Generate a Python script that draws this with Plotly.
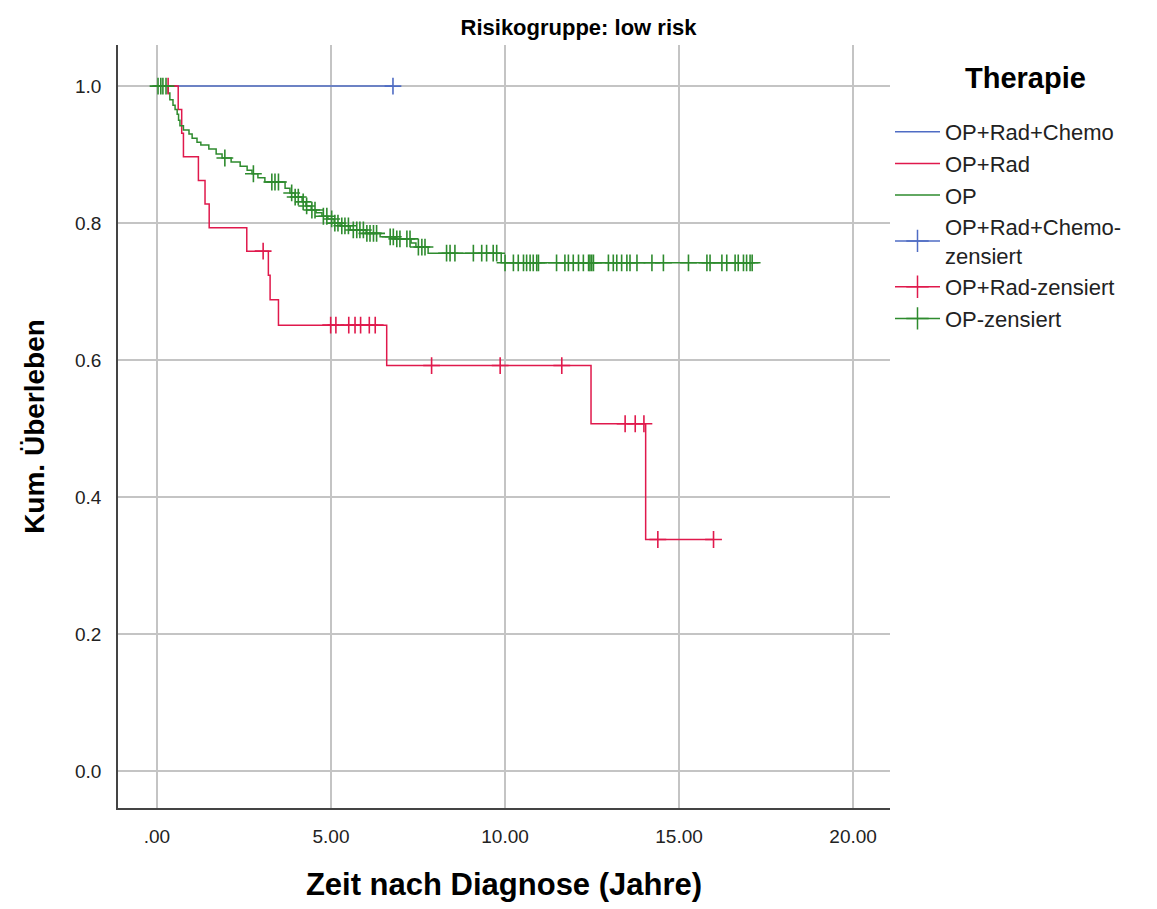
import plotly.graph_objects as go

# Kaplan-Meier estimates for the low-risk group, by therapy
chemo_event_t = []
chemo_event_s = []
chemo_censor_t = [6.78]
chemo_end = 6.78

rad_event_t = [0.61, 0.71, 0.76, 1.19, 1.38, 1.50, 2.58, 3.20, 3.25, 3.49, 6.60, 12.47, 14.04]
rad_event_s = [0.966, 0.931, 0.897, 0.862, 0.828, 0.793, 0.759, 0.724, 0.688, 0.651, 0.592, 0.507, 0.338]
rad_censor_t = [0.32, 3.05, 4.99, 5.14, 5.51, 5.69, 5.85, 6.10, 6.27, 7.89, 9.86, 11.63,
                13.45, 13.74, 13.99, 14.39, 15.99]
rad_end = 15.99

op_event_t = [0.32, 0.37, 0.46, 0.52, 0.58, 0.62, 0.66, 0.76, 0.92, 1.01, 1.15, 1.26, 1.49,
              1.70, 1.87, 2.13, 2.39, 2.59, 2.73, 2.90, 3.10, 3.68, 3.82, 3.97, 4.17, 4.28,
              4.43, 4.57, 4.74, 4.91, 5.09, 5.26, 5.55, 6.01, 6.41, 6.84, 7.30, 7.44, 7.79, 9.89]
op_event_s = [0.990, 0.980, 0.972, 0.966, 0.959, 0.950, 0.942, 0.936, 0.930, 0.924, 0.918,
              0.914, 0.908, 0.901, 0.895, 0.889, 0.883, 0.877, 0.872, 0.866, 0.860, 0.851,
              0.844, 0.838, 0.831, 0.825, 0.819, 0.815, 0.810, 0.806, 0.800, 0.796, 0.790,
              0.785, 0.780, 0.777, 0.771, 0.765, 0.756, 0.742]
op_censor_t = [0.03, 0.11, 0.17, 0.26, 1.95, 2.77, 3.30, 3.39, 3.49, 3.87, 3.97, 4.06, 4.20,
               4.30, 4.45, 4.54, 4.78, 4.88, 5.02, 5.11, 5.20, 5.31, 5.40, 5.50, 5.64, 5.74,
               5.83, 5.93, 6.03, 6.12, 6.22, 6.31, 6.70, 6.79, 6.89, 6.98, 7.18, 7.27, 7.51,
               7.61, 7.70, 8.32, 8.42, 8.56, 9.09, 9.33, 9.47, 9.66, 9.76,
               10.00, 10.24, 10.38, 10.53, 10.62, 10.72, 10.81, 10.91, 10.96, 11.48, 11.72,
               11.82, 11.96, 12.11, 12.25, 12.40, 12.44, 12.49, 12.54, 12.97, 13.11, 13.21,
               13.35, 13.50, 13.59, 13.79, 14.22, 14.55, 15.27, 15.80, 15.89, 16.23, 16.37,
               16.61, 16.70, 16.85, 16.94, 17.04, 17.10]
op_end = 17.10

x_tick_vals = [0, 5, 10, 15, 20]
x_tick_text = [".00", "5.00", "10.00", "15.00", "20.00"]
y_tick_vals = [0.0, 0.2, 0.4, 0.6, 0.8, 1.0]

groups = [
    ("OP+Rad+Chemo", "OP+Rad+Chemo-<br>zensiert", "#4f6cc4",
     chemo_event_t, chemo_event_s, chemo_censor_t, chemo_end),
    ("OP+Rad", "OP+Rad-zensiert", "#e0194c",
     rad_event_t, rad_event_s, rad_censor_t, rad_end),
    ("OP", "OP-zensiert", "#2e8b2e",
     op_event_t, op_event_s, op_censor_t, op_end),
]


def surv_at(t, ev_t, ev_s):
    s = 1.0
    for et, es in zip(ev_t, ev_s):
        if et <= t:
            s = es
    return s


FONT = "Liberation Sans, Arial, sans-serif"
fig = go.Figure()

# step curves
for name, cname, col, ev_t, ev_s, c_t, end in groups:
    xs = [0.0] + list(ev_t) + [end]
    ys = [1.0] + list(ev_s) + [ev_s[-1] if ev_s else 1.0]
    fig.add_trace(go.Scatter(
        x=xs, y=ys, mode="lines", line=dict(color=col, width=1.5, shape="hv"),
        name=name, legendgroup=name, hoverinfo="skip"))

# legend entries for censor marks
for name, cname, col, ev_t, ev_s, c_t, end in groups:
    fig.add_trace(go.Scatter(
        x=[None], y=[None], mode="lines+markers", name=cname, legendgroup=cname,
        line=dict(color=col, width=1.5),
        marker=dict(symbol="cross-thin", size=16, line=dict(color=col, width=1.5))))

# censor marks
for name, cname, col, ev_t, ev_s, c_t, end in groups:
    fig.add_trace(go.Scatter(
        x=c_t, y=[surv_at(t, ev_t, ev_s) for t in c_t], mode="markers",
        showlegend=False, legendgroup=cname,
        marker=dict(symbol="cross-thin", size=12, line=dict(color=col, width=1.6))))

fig.update_layout(
    width=1157, height=909,
    margin=dict(l=118, r=267, t=45, b=101),
    paper_bgcolor="white", plot_bgcolor="white",
    font=dict(family=FONT, color="#000000"),
    title=dict(text="<b>Risikogruppe: low risk</b>", x=0.5, xanchor="center",
               y=1 - 27 / 909, yanchor="middle", font=dict(size=22, family=FONT)),
    showlegend=True,
    legend=dict(
        x=1.0, xanchor="left", y=0.9135, yanchor="top",
        bgcolor="rgba(0,0,0,0)", itemwidth=45, tracegroupgap=0,
        font=dict(size=22, family=FONT, color="#222222"),
        traceorder="normal"),
    annotations=[dict(
        text="<b>Therapie</b>", xref="paper", yref="paper", x=1.175, y=0.957,
        xanchor="center", yanchor="middle", showarrow=False,
        font=dict(size=29, family=FONT, color="#000000"))],
)

fig.update_xaxes(
    range=[-1.12, 21.06], tickvals=x_tick_vals, ticktext=x_tick_text,
    showgrid=True, gridcolor="#c4c4c4", gridwidth=1.6, zeroline=False,
    showline=True, linecolor="#444444", linewidth=1.6, ticks="",
    tickfont=dict(size=19, family=FONT, color="#222222"), ticklabelstandoff=10,
    title=dict(text="<b>Zeit nach Diagnose (Jahre)</b>", standoff=28,
               font=dict(size=31, family=FONT)))
fig.update_yaxes(
    range=[-0.054, 1.06], tickvals=y_tick_vals, tickformat=".1f",
    showgrid=True, gridcolor="#c4c4c4", gridwidth=1.6, zeroline=False,
    showline=True, linecolor="#444444", linewidth=1.6, ticks="",
    tickfont=dict(size=19, family=FONT, color="#222222"), ticklabelstandoff=11,
    title=dict(text="<b>Kum. Überleben</b>", standoff=22,
               font=dict(size=28, family=FONT)))

fig.write_html("out.html")
